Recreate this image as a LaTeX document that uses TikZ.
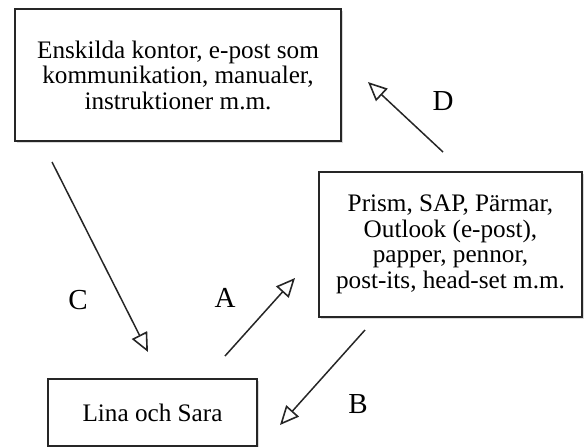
\documentclass[tikz,border=0pt]{standalone}
\usepackage{fontspec}
\setmainfont{Liberation Serif}
\usetikzlibrary{arrows.meta,shadows}
\begin{document}
\begin{tikzpicture}[x=1pt,y=-1pt,
  infobox/.style={draw=black!85, line width=1.6pt, fill=white, inner sep=0pt,
    align=center, font=\fontsize{25.2}{25.5}\selectfont,
    drop shadow={shadow xshift=1.5pt, shadow yshift=-1.5pt, opacity=0.25, fill=black!60}},
  flow/.style={draw=black!85, line width=1.5pt,
    -{Triangle[open, length=19pt, width=17pt, line width=1.6pt]}},
  letter/.style={anchor=base, inner sep=0pt, font=\fontsize{29}{30}\selectfont}]
  \useasboundingbox (0,0) rectangle (584,447);

  % boxes
  \node[infobox, minimum width=326pt, minimum height=132pt] (office) at (178,75)
    {Enskilda kontor, e-post som\\kommunikation, manualer,\\instruktioner m.m.};
  \node[infobox, minimum width=263pt, minimum height=145pt] (tools) at (450.5,244.5)
    {Prism, SAP, Pärmar,\\Outlook (e-post),\\papper, pennor,\\post-its, head-set m.m.};
  \node[infobox, minimum width=209pt, minimum height=67pt] (users) at (152.5,412.5)
    {Lina och Sara};

  % connector end points
  \coordinate (a1) at (225,356);  \coordinate (a2) at (295,278);
  \coordinate (b1) at (365,330);  \coordinate (b2) at (280,425);
  \coordinate (c1) at (52,162);   \coordinate (c2) at (148,352);
  \coordinate (d1) at (443,152);  \coordinate (d2) at (368,82);

  \draw[flow] (a1) -- (a2);
  \draw[flow] (b1) -- (b2);
  \draw[flow] (c1) -- (c2);
  \draw[flow] (d1) -- (d2);

  % connector labels
  \node[letter] (la) at (225,307) {A};
  \node[letter] (lb) at (358,413) {B};
  \node[letter] (lc) at (78,309) {C};
  \node[letter] (ld) at (443,110) {D};
\end{tikzpicture}
\end{document}
